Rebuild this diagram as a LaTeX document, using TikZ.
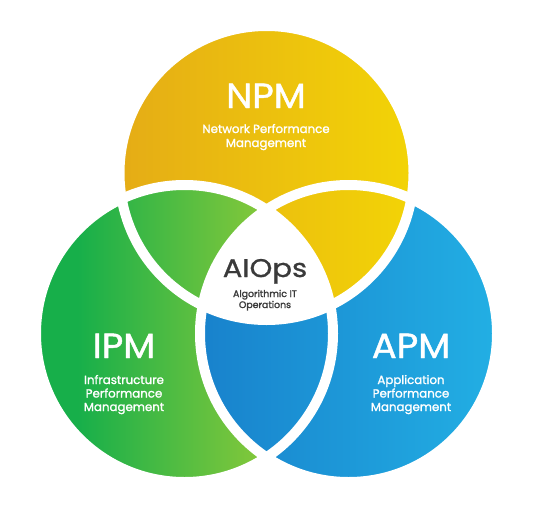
\documentclass[tikz,border=0pt]{standalone}
\usepackage{fontspec}
\setmainfont{Poppins}
\definecolor{npmL}{HTML}{E5AC16}
\definecolor{npmR}{HTML}{F8E400}
\definecolor{ipmL}{HTML}{17AF4A}
\definecolor{ipmR}{HTML}{B8D433}
\definecolor{apmL}{HTML}{1574C5}
\definecolor{apmR}{HTML}{25BBEA}
\definecolor{txtgray}{HTML}{3A3A3A}
\pgfdeclarehorizontalshading{ipmshade}{100bp}{color(0bp)=(ipmL); color(32bp)=(ipmL); color(78bp)=(ipmR); color(100bp)=(ipmR)}
\pgfdeclarehorizontalshading{npmshade}{100bp}{color(0bp)=(npmL); color(25bp)=(npmL); color(95bp)=(npmR); color(100bp)=(npmR)}
\pgfdeclarehorizontalshading{apmshade}{100bp}{color(0bp)=(apmL); color(10bp)=(apmL); color(88bp)=(apmR); color(100bp)=(apmR)}
\newcommand\circN{(266.5,173) circle[radius=147]}
\newcommand\circI{(184.5,333.5) circle[radius=148.5]}
\newcommand\circA{(348.5,333.5) circle[radius=148.5]}
\tikzset{
  big/.style={anchor=base,text=white,font=\fontsize{35}{35}\selectfont\addfontfeature{FakeBold=1.2,FakeStretch=1.06}},
  small/.style={anchor=base,text=white,font=\fontsize{11.8}{14}\selectfont\addfontfeature{FakeBold=1.5}},
  aibig/.style={anchor=base,text=txtgray,font=\fontsize{25.5}{25}\selectfont\addfontfeature{FakeBold=1,FakeStretch=1.14}},
  aismall/.style={anchor=base,text=txtgray,font=\fontsize{9.4}{10}\selectfont\addfontfeature{FakeBold=1.8}}
}
\begin{document}
\begin{tikzpicture}[x=1pt,y=-1pt]
\useasboundingbox (0,0) rectangle (540,530);
\fill[white] (0,0) rectangle (540,530);
% circles
\shade[shading=ipmshade] \circI;
\shade[shading=apmshade] \circA;
\shade[shading=npmshade] \circN;
\begin{scope}
  \clip \circN;
  \shade[shading=ipmshade] \circI;
\end{scope}
\begin{scope}
  \clip \circN;
  \clip \circI;
  \fill[white] \circA;
\end{scope}
\draw[white,line width=10pt] \circN;
\draw[white,line width=10pt] \circI;
\draw[white,line width=10pt] \circA;
% texts
\node[big] (npm) at (266,108) {NPM};
\node[small] (npm1) at (266,133) {Network Performance};
\node[small] (npm2) at (266,147) {Management};
\node[aibig] (ai) at (265,277) {AIOps};
\node[aismall] (ai1) at (265,297) {Algorithmic IT};
\node[aismall] (ai2) at (265,308) {Operations};
\node[big] (ipm) at (124,358) {IPM};
\node[small] (ipm1) at (124,384) {Infrastructure};
\node[small] (ipm2) at (124,397.5) {Performance};
\node[small] (ipm3) at (124,411) {Management};
\node[big] (apm) at (411,358) {APM};
\node[small] (apm1) at (411,384) {Application};
\node[small] (apm2) at (411,397.5) {Performance};
\node[small] (apm3) at (411,411) {Management};
\end{tikzpicture}
\end{document}
